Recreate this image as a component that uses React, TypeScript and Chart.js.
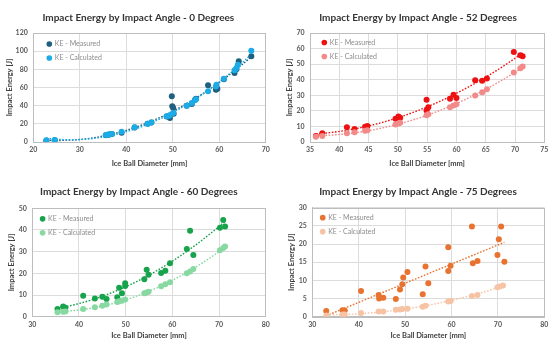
import { useEffect, useRef } from "react";
import { Chart, registerables } from "chart.js";

Chart.register(...registerables);

// ---------- Data ----------
// 0 degrees
const d0MeasuredDiameter = [22.8, 24.6, 35.6, 36.0, 36.4, 36.9, 39.0, 41.8, 44.6, 45.4, 48.7, 49.2, 49.4, 49.8, 49.9, 50.1, 50.2, 53.0, 54.1, 54.8, 55.0, 57.6, 59.3, 59.6, 61.0, 63.3, 63.7, 64.2, 66.9];
const d0MeasuredEnergy = [1.5, 2.0, 7.5, 8.0, 8.3, 8.8, 10.2, 16.0, 20.0, 21.5, 28.0, 29.0, 26.5, 50.3, 39.3, 37.4, 31.0, 40.0, 41.9, 46.6, 47.5, 62.4, 57.6, 58.5, 69.0, 76.0, 80.0, 88.9, 94.4];
const d0CalcDiameter = [22.8, 24.6, 35.6, 36.0, 36.4, 36.9, 39.0, 41.8, 44.6, 45.4, 48.7, 49.2, 49.4, 50.1, 53.0, 54.1, 54.8, 55.0, 57.6, 59.3, 59.4, 61.0, 63.3, 63.7, 64.0, 66.9];
const d0CalcEnergy = [1.8, 2.2, 7.6, 8.0, 8.4, 8.9, 11.2, 16.2, 20.2, 21.5, 28.3, 29.0, 29.4, 31.9, 40.0, 43.0, 46.0, 47.0, 55.8, 61.0, 63.1, 69.7, 79.0, 81.5, 85.0, 100.5];

// 52 degrees
const d52MeasuredDiameter = [36.0, 37.1, 41.3, 42.6, 44.4, 44.8, 49.6, 50.1, 50.4, 54.9, 54.9, 55.2, 58.9, 59.5, 60.0, 63.2, 64.4, 65.2, 69.8, 70.9, 71.3];
const d52MeasuredEnergy = [3.8, 5.6, 9.4, 8.3, 9.8, 10.3, 15.0, 16.3, 15.5, 27.2, 20.3, 22.3, 27.8, 30.4, 28.3, 39.6, 39.4, 40.7, 57.8, 55.7, 55.0];
const d52CalcDiameter = [36.0, 37.1, 41.3, 42.6, 44.4, 44.8, 49.6, 50.1, 50.4, 54.9, 55.2, 58.9, 59.5, 60.0, 63.2, 64.4, 65.2, 69.8, 70.9, 71.3];
const d52CalcEnergy = [3.3, 3.8, 5.6, 6.2, 7.3, 7.6, 11.3, 11.9, 12.3, 17.1, 17.8, 22.3, 23.4, 24.2, 29.8, 32.0, 33.9, 44.6, 47.3, 48.5];

// 60 degrees
const d60MeasuredDiameter = [35.4, 36.6, 37.1, 40.9, 43.4, 45.0, 45.9, 48.2, 48.6, 49.2, 49.9, 49.9, 54.0, 54.5, 54.9, 57.6, 58.5, 59.5, 63.1, 63.8, 64.5, 70.2, 70.9, 71.3];
const d60MeasuredEnergy = [3.6, 4.7, 4.1, 9.7, 8.4, 9.2, 8.2, 9.0, 13.4, 10.8, 14.2, 15.4, 17.3, 21.7, 19.3, 20.2, 21.2, 24.6, 31.2, 39.7, 28.5, 41.0, 44.6, 41.6];
const d60CalcDiameter = [35.4, 36.6, 37.1, 40.9, 43.4, 45.0, 45.9, 48.2, 48.6, 49.2, 49.9, 54.0, 54.5, 54.9, 57.6, 58.5, 59.5, 63.1, 63.8, 64.5, 70.2, 70.9, 71.3];
const d60CalcEnergy = [2.0, 2.3, 2.4, 3.6, 4.4, 5.1, 5.6, 6.8, 7.1, 7.4, 7.9, 10.8, 11.2, 11.5, 14.0, 15.0, 15.9, 20.0, 20.8, 22.0, 30.6, 31.7, 32.4];

// 75 degrees
const d75MeasuredDiameter = [33.0, 36.5, 37.0, 40.5, 44.3, 44.4, 45.3, 48.0, 48.9, 49.4, 49.6, 50.5, 53.8, 54.4, 55.0, 59.3, 59.3, 59.8, 64.4, 64.6, 65.6, 69.9, 70.2, 70.7, 71.4];
const d75MeasuredEnergy = [1.6, 1.8, 1.7, 7.1, 6.0, 5.0, 5.2, 4.9, 7.5, 8.9, 10.8, 12.3, 6.2, 13.8, 9.2, 19.1, 12.6, 14.0, 24.8, 14.7, 15.3, 17.0, 21.3, 24.8, 15.1];
const d75CalcDiameter = [33.0, 36.5, 37.0, 40.5, 44.3, 45.3, 48.0, 48.9, 49.4, 50.5, 53.8, 54.4, 59.3, 59.8, 64.4, 65.6, 69.9, 70.4, 71.1];
const d75CalcEnergy = [0.3, 0.6, 0.6, 1.0, 1.4, 1.4, 1.9, 2.0, 2.1, 2.2, 2.75, 3.0, 4.2, 4.3, 5.7, 6.0, 8.1, 8.3, 8.6];

const seriesNames = ["KE - Measured", "KE - Calculated"];
const xAxisTitle = "Ice Ball Diameter [mm]";
const yAxisTitle = "Impact Energy [J]";

// ---------- helpers ----------
function polyFit(xs: number[], ys: number[], order: number): number[] {
  const n = order + 1;
  const A: number[][] = Array.from({ length: n }, () => new Array(n + 1).fill(0));
  for (let k = 0; k < xs.length; k++) {
    for (let i = 0; i < n; i++) {
      for (let j = 0; j < n; j++) A[i][j] += Math.pow(xs[k], i + j);
      A[i][n] += ys[k] * Math.pow(xs[k], i);
    }
  }
  for (let i = 0; i < n; i++) {
    let p = i;
    for (let r = i + 1; r < n; r++) if (Math.abs(A[r][i]) > Math.abs(A[p][i])) p = r;
    [A[i], A[p]] = [A[p], A[i]];
    for (let r = 0; r < n; r++) {
      if (r === i) continue;
      const f = A[r][i] / A[i][i];
      for (let c = i; c <= n; c++) A[r][c] -= f * A[i][c];
    }
  }
  return A.map((row, i) => row[n] / row[i]);
}

function trend(xs: number[], ys: number[], order: number) {
  const c = polyFit(xs, ys, order);
  const lo = Math.min(...xs);
  const hi = Math.max(...xs);
  const pts: { x: number; y: number }[] = [];
  const steps = 60;
  for (let i = 0; i <= steps; i++) {
    const x = lo + ((hi - lo) * i) / steps;
    let y = 0;
    for (let k = 0; k < c.length; k++) y += c[k] * Math.pow(x, k);
    pts.push({ x, y });
  }
  return pts;
}

const zip = (xs: number[], ys: number[]) => xs.map((x, i) => ({ x, y: ys[i] }));

type Geom = {
  left: number; top: number; W: number; H: number;
  plotLeft: number; plotRight: number; plotTop: number; plotBottom: number;
  titleX: number; titleY: number; yTitleX: number; xTitleY: number; legendDx: number; legendDy: number;
};

type PanelCfg = {
  title: string;
  mx: number[]; my: number[]; cx: number[]; cy: number[];
  mOrder: number; cOrder: number;
  mColor: string; cColor: string;
  xMin: number; xMax: number; xStep: number;
  yMax: number; yStep: number;
  geom: Geom;
};

const FONT = "Lato";

const panels: PanelCfg[] = [
  {
    title: "Impact Energy by Impact Angle - 0 Degrees",
    mx: d0MeasuredDiameter, my: d0MeasuredEnergy, cx: d0CalcDiameter, cy: d0CalcEnergy,
    mOrder: 2, cOrder: 2, mColor: "#1F5F7F", cColor: "#1BABE6",
    xMin: 20, xMax: 70, xStep: 10, yMax: 120, yStep: 20,
    geom: { left: 0, top: 0, W: 275, H: 170, plotLeft: 33.3, plotRight: 265.7, plotTop: 33, plotBottom: 142,
      titleX: 138.3, titleY: 16, yTitleX: 10, xTitleY: 163.3, legendDx: 16, legendDy: 11 },
  },
  {
    title: "Impact Energy by Impact Angle - 52 Degrees",
    mx: d52MeasuredDiameter, my: d52MeasuredEnergy, cx: d52CalcDiameter, cy: d52CalcEnergy,
    mOrder: 2, cOrder: 2, mColor: "#EE1111", cColor: "#F38A8A",
    xMin: 35, xMax: 75, xStep: 5, yMax: 70, yStep: 10,
    geom: { left: 277, top: 0, W: 272, H: 170, plotLeft: 33, plotRight: 267.3, plotTop: 33, plotBottom: 142,
      titleX: 141, titleY: 16, yTitleX: 13, xTitleY: 163.3, legendDx: 14.3, legendDy: 9.5 },
  },
  {
    title: "Impact Energy by Impact Angle - 60 Degrees",
    mx: d60MeasuredDiameter, my: d60MeasuredEnergy, cx: d60CalcDiameter, cy: d60CalcEnergy,
    mOrder: 2, cOrder: 2, mColor: "#17A24C", cColor: "#88D8A2",
    xMin: 30, xMax: 80, xStep: 10, yMax: 50, yStep: 5,
    geom: { left: 0, top: 175, W: 275, H: 170, plotLeft: 32.3, plotRight: 265.7, plotTop: 33.3, plotBottom: 141.7,
      titleX: 138.8, titleY: 15.7, yTitleX: 11.7, xTitleY: 160.7, legendDx: 10.3, legendDy: 10.5 },
  },
  {
    title: "Impact Energy by Impact Angle - 75 Degrees",
    mx: d75MeasuredDiameter, my: d75MeasuredEnergy, cx: d75CalcDiameter, cy: d75CalcEnergy,
    mOrder: 1, cOrder: 2, mColor: "#E8722F", cColor: "#F6C3A4",
    xMin: 30, xMax: 80, xStep: 10, yMax: 30, yStep: 5,
    geom: { left: 277, top: 175, W: 272, H: 170, plotLeft: 35.3, plotRight: 267.3, plotTop: 32.7, plotBottom: 141.7,
      titleX: 141, titleY: 15.7, yTitleX: 14.7, xTitleY: 160.7, legendDx: 10.4, legendDy: 10 },
  },
];

function Panel({ cfg }: { cfg: PanelCfg }) {
  const ref = useRef<HTMLCanvasElement>(null);
  const g = cfg.geom;
  useEffect(() => {
    if (!ref.current) return;
    const titleSize = 10;
    const lhT = titleSize * 1.2;
    const titleCenter = g.titleY + 1.5;
    const axTitleSize = 7.5;
    const lhA = axTitleSize * 1.2;
    const tickSize = 7;
    const legendSize = 7;
    const legendPad = 7;
    const pr = g.W - g.plotRight;
    const pl = 2 * g.titleX - g.plotRight;
    const yWidth = g.plotLeft - pl;
    const xHeight = g.H - g.plotBottom;

    const borderPlugin = {
      id: "plotBorder",
      beforeDatasetsDraw(chart: any) {
        const { ctx, chartArea: a } = chart;
        ctx.save();
        ctx.strokeStyle = "#BDBDBD";
        ctx.lineWidth = 1;
        ctx.strokeRect(Math.round(a.left) + 0.5, Math.round(a.top) + 0.5, Math.round(a.right - a.left), Math.round(a.bottom - a.top));
        ctx.restore();
      },
    };
    const legendPlace = {
      id: "legendPlace",
      afterLayout(chart: any) {
        const lg = chart.legend;
        const a = chart.chartArea;
        if (lg && a) {
          // marker centre = left + padding + boxWidth/2 ; first row centre = top + padding + itemHeight/2
          lg.left = a.left + g.legendDx - legendPad - 2;
          lg.right = a.right;
          lg.top = a.top + g.legendDy - legendPad - legendSize / 2;
          lg.bottom = a.bottom;
        }
      },
    };

    const chart = new Chart(ref.current, {
      type: "scatter",
      data: {
        datasets: [
          {
            label: seriesNames[0],
            data: zip(cfg.mx, cfg.my),
            backgroundColor: cfg.mColor,
            borderColor: cfg.mColor,
            borderWidth: 0,
            pointRadius: 3,
            order: 2,
          },
          {
            label: seriesNames[1],
            data: zip(cfg.cx, cfg.cy),
            backgroundColor: cfg.cColor,
            borderColor: cfg.cColor,
            borderWidth: 0,
            pointRadius: 3,
            order: 1,
          },
          {
            label: "trend-m",
            type: "line",
            data: trend(cfg.mx, cfg.my, cfg.mOrder),
            borderColor: cfg.mColor,
            borderWidth: 1.4,
            borderDash: [1.6, 1.6],
            pointRadius: 0,
            fill: false,
            order: 4,
          } as any,
          {
            label: "trend-c",
            type: "line",
            data: trend(cfg.cx, cfg.cy, cfg.cOrder),
            borderColor: cfg.cColor,
            borderWidth: 1.4,
            borderDash: [1.6, 1.6],
            pointRadius: 0,
            fill: false,
            order: 3,
          } as any,
        ],
      },
      options: {
        responsive: false,
        animation: false,
        devicePixelRatio: 1,
        layout: { padding: { left: pl, right: pr, top: 0, bottom: 0 } },
        plugins: {
          tooltip: { enabled: false },
          title: {
            display: true,
            text: cfg.title,
            color: "#333333",
            font: { family: FONT, size: titleSize, weight: "bold", lineHeight: 1.2 },
            padding: { top: titleCenter - lhT / 2, bottom: g.plotTop - (titleCenter + lhT / 2) },
          },
          legend: {
            display: true,
            position: "chartArea",
            align: "start",
            labels: {
              usePointStyle: true,
              pointStyle: "circle",
              boxWidth: 4,
              boxHeight: 4,
              padding: legendPad,
              color: "#8C8C8C",
              font: { family: FONT, size: legendSize },
              filter: (item: any) => item.datasetIndex < 2,
              sort: (a: any, b: any) => a.datasetIndex - b.datasetIndex,
            },
          },
        },
        scales: {
          x: {
            type: "linear",
            min: cfg.xMin,
            max: cfg.xMax,
            ticks: {
              stepSize: cfg.xStep,
              color: "#595959",
              padding: 4,
              font: { family: FONT, size: tickSize, weight: "bold" },
            },
            grid: { color: "#DCDCDC", drawTicks: false },
            border: { display: true, color: "#BDBDBD" },
            title: {
              display: true,
              text: xAxisTitle,
              color: "#404040",
              font: { family: FONT, size: axTitleSize, weight: "bold", lineHeight: 1.2 },
              padding: { top: 0, bottom: g.H - g.xTitleY - lhA / 2 },
            },
            afterFit(scale: any) {
              scale.height = xHeight;
              scale.paddingLeft = 0;
              scale.paddingRight = 0;
            },
          },
          y: {
            type: "linear",
            min: 0,
            max: cfg.yMax,
            ticks: {
              stepSize: cfg.yStep,
              color: "#595959",
              padding: 5.5,
              font: { family: FONT, size: tickSize, weight: "bold" },
            },
            grid: { color: "#DCDCDC", drawTicks: false },
            border: { display: true, color: "#BDBDBD" },
            title: {
              display: true,
              text: yAxisTitle,
              color: "#404040",
              font: { family: FONT, size: axTitleSize, weight: "bold", lineHeight: 1.2 },
              padding: { top: g.yTitleX - pl - lhA / 2, bottom: 0 },
            },
            afterFit(scale: any) {
              scale.width = yWidth;
              scale.paddingTop = 0;
              scale.paddingBottom = 0;
            },
          },
        },
      } as any,
      plugins: [borderPlugin, legendPlace],
    });
    return () => chart.destroy();
  }, []);
  return (
    <canvas
      ref={ref}
      width={g.W}
      height={g.H}
      style={{ position: "absolute", left: g.left, top: g.top, width: g.W, height: g.H }}
    />
  );
}

export default function App() {
  return (
    <div
      style={{
        position: "fixed",
        left: 0,
        top: 0,
        width: 549,
        height: 341,
        overflow: "hidden",
        background: "#FFFFFF",
      }}
    >
      {panels.map((p, i) => (
        <Panel key={i} cfg={p} />
      ))}
    </div>
  );
}
